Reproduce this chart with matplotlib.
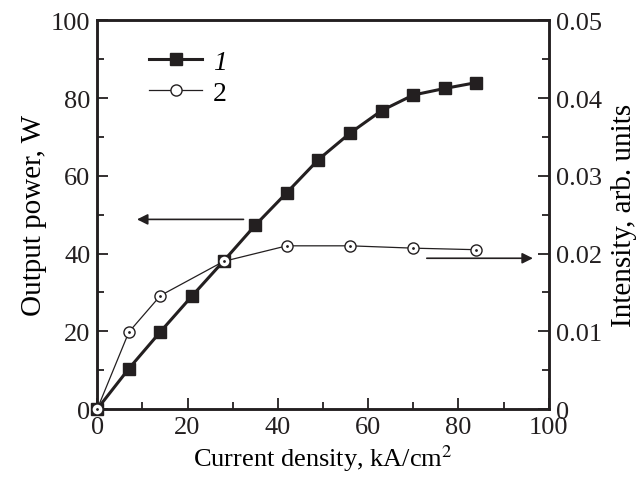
import numpy as np
import matplotlib.pyplot as plt
from matplotlib.ticker import MultipleLocator

plt.rcParams['font.family'] = ['Liberation Serif', 'DejaVu Serif']
plt.rcParams['mathtext.fontset'] = 'stix'

# datos
j_potencia = [0, 7, 14, 21, 28, 35, 42, 49, 56, 63, 70, 77, 84]
potencia = [0, 10.4, 19.9, 29.1, 38.1, 47.3, 55.7, 64.2, 71.0, 76.8, 80.8, 82.5, 84.0]

j_intensidad = [0, 7, 14, 28, 42, 56, 70, 84]
intensidad = [0, 0.0099, 0.0146, 0.0190, 0.0210, 0.0210, 0.0207, 0.0205]

etiquetas = ['1', '2']

fig = plt.figure(figsize=(6.44, 4.81), dpi=100)
ax = fig.add_axes([0.151, 0.1475, 0.701, 0.808])
ax2 = ax.twinx()

l1, = ax.plot(j_potencia, potencia, 's-', color='#231f20', lw=2.2, ms=9,
              clip_on=False, zorder=3)
l2, = ax2.plot(j_intensidad, intensidad, 'o-', color='#231f20', lw=0.9, ms=8,
               mfc='white', mec='#231f20', mew=1.0, clip_on=False, zorder=3)
ax2.plot(j_intensidad, intensidad, '.', color='#231f20', ms=2, clip_on=False, zorder=4)

ax.set_xlim(0, 100)
ax.set_ylim(0, 100)
ax2.set_ylim(0, 0.05)

ax.xaxis.set_major_locator(MultipleLocator(20))
ax.xaxis.set_minor_locator(MultipleLocator(10))
ax.yaxis.set_major_locator(MultipleLocator(20))
ax.yaxis.set_minor_locator(MultipleLocator(10))
ax2.set_yticks([0, 0.01, 0.02, 0.03, 0.04, 0.05])
ax2.set_yticklabels(['0', '0.01', '0.02', '0.03', '0.04', '0.05'])
ax2.yaxis.set_minor_locator(MultipleLocator(0.005))

for a in (ax, ax2):
    for s in a.spines.values():
        s.set_linewidth(1.8)
        s.set_color('#231f20')
ax.tick_params(which='both', direction='in', labelsize=19, width=1.3,
               top=False, right=False, pad=5, colors='#231f20')
ax.tick_params(which='major', length=8)
ax.tick_params(which='minor', length=5)
ax2.tick_params(which='both', direction='in', labelsize=19, width=1.3, pad=5,
                colors='#231f20')
ax2.tick_params(which='major', length=8)
ax2.tick_params(which='minor', length=5)

ax.set_xlabel('Current density, kA/cm$^2$', fontsize=19, labelpad=3)
ax.set_ylabel('Output power, W', fontsize=21, labelpad=3)
ax2.set_ylabel('Intensity, arb. units', fontsize=21, labelpad=7)

# flechas indicando el eje de cada curva
ax.annotate('', xy=(8.8, 48.8), xytext=(32.4, 48.8),
            arrowprops=dict(arrowstyle='-|>', color='#231f20', lw=1.2,
                            mutation_scale=16, shrinkA=0, shrinkB=0))
ax.annotate('', xy=(96.5, 38.8), xytext=(73, 38.8),
            arrowprops=dict(arrowstyle='-|>', color='#231f20', lw=1.2,
                            mutation_scale=16, shrinkA=0, shrinkB=0))

leg = ax2.legend([l1, l2], etiquetas, loc='upper left', bbox_to_anchor=(0.06, 0.99),
                 frameon=False, fontsize=20, handlelength=1.9, handletextpad=0.4,
                 labelspacing=0.2)
leg.get_texts()[0].set_style('italic')

plt.savefig('out.png', dpi=100)
